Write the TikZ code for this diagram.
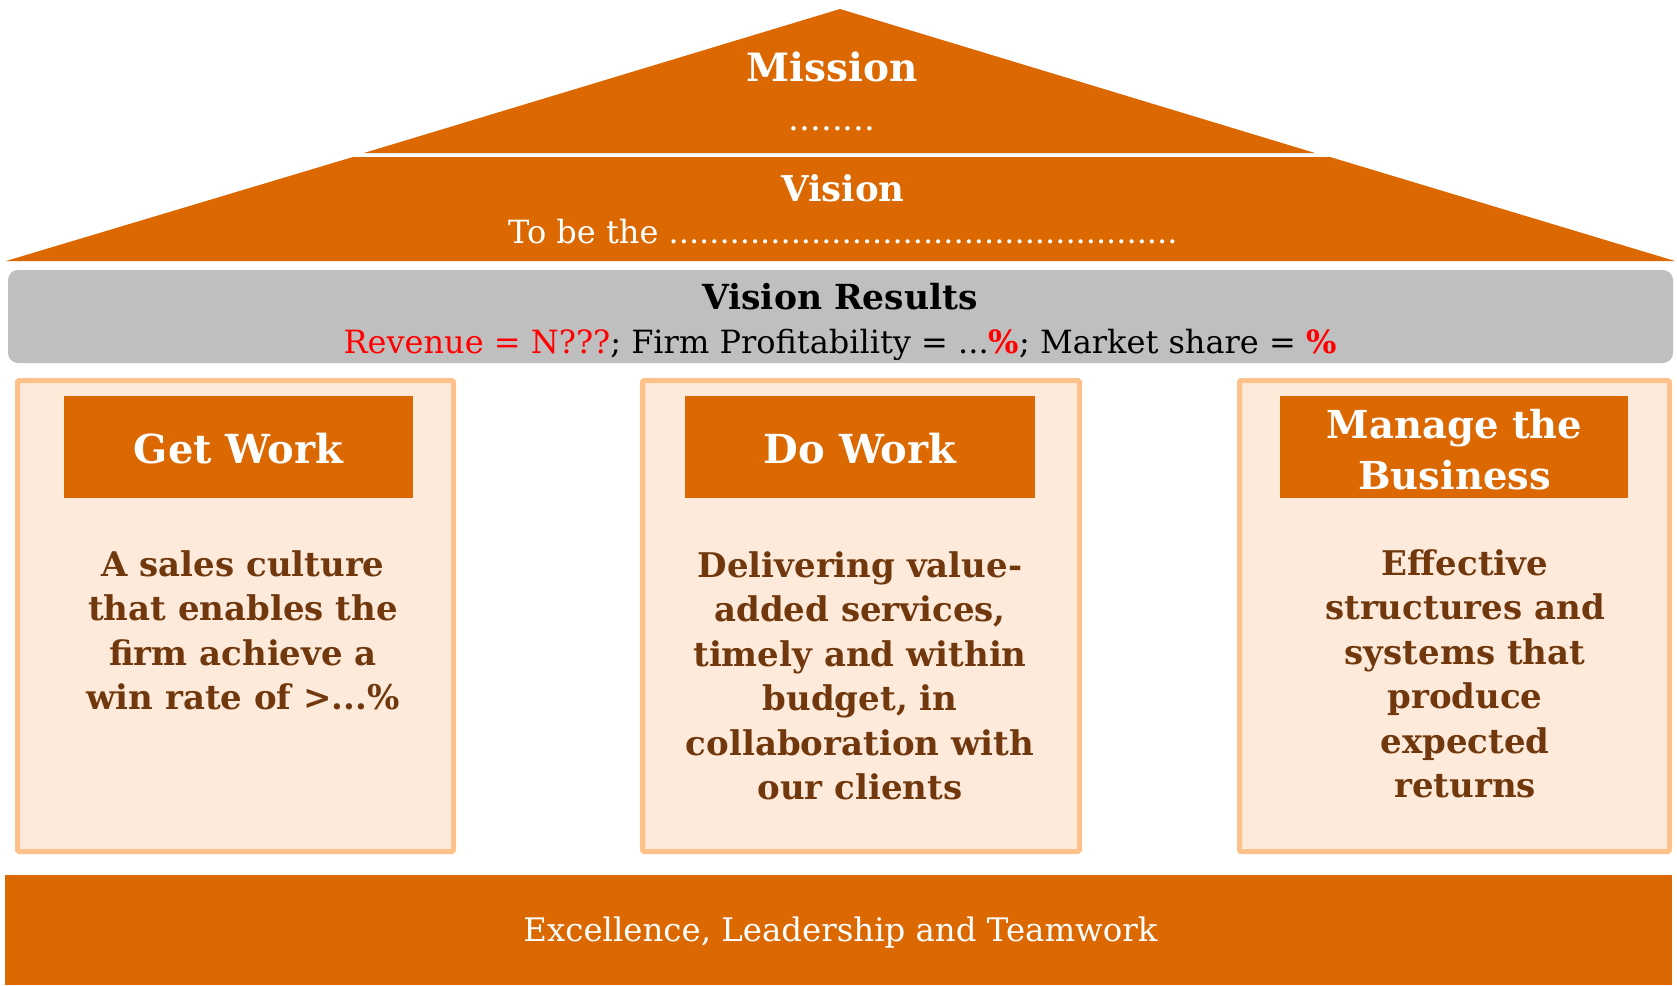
\documentclass[tikz,border=0pt]{standalone}
\usepackage{fontspec}
\setmainfont{DejaVu Serif}
\definecolor{orng}{RGB}{219,104,0}
\definecolor{graybar}{RGB}{191,191,191}
\definecolor{pilfill}{RGB}{253,234,218}
\definecolor{pilline}{RGB}{255,193,138}
\definecolor{brwn}{RGB}{112,56,12}
\definecolor{redt}{RGB}{255,0,0}
\tikzset{
  pillar/.style={draw=pilline, line width=5pt, fill=pilfill, inner sep=0pt, rounded corners=1.5pt},
  header/.style={fill=orng, inner sep=0pt},
  htext/.style={text=white, inner sep=0pt, anchor=base, font=\fontsize{40}{46}\selectfont\bfseries},
  body/.style={text=brwn, inner sep=0pt, align=center, font=\fontsize{34}{44.5}\selectfont\bfseries},
  wtext/.style={text=white, inner sep=0pt},
}
\begin{document}
\begin{tikzpicture}[x=1pt,y=-1pt]
\useasboundingbox (0,0) rectangle (1677,985);
% roof
\fill[orng] (353,157) -- (1330,157) -- (1675,261) -- (6,261) -- cycle;
\fill[orng] (840,9) -- (1315,153) -- (364,153) -- cycle;
\node[wtext, anchor=base, font=\fontsize{39}{44}\selectfont\bfseries] (mission) at (832,81) {Mission};
\node[wtext, anchor=base, font=\fontsize{34}{36}\selectfont] (mdots) at (832,130) {........};
\node[wtext, anchor=base, font=\fontsize{35.5}{40}\selectfont\bfseries] (vision) at (843,201) {Vision};
\node[wtext, anchor=base west, font=\fontsize{32}{38}\selectfont] (tobe) at (508,243) {To be the ..................................................};
% results bar
\node[fill=graybar, rounded corners=10pt, minimum width=1665pt, minimum height=93pt, inner sep=0pt] (bar) at (840.5,316.5) {};
\node[inner sep=0pt, anchor=base, font=\fontsize{34.5}{38}\selectfont\bfseries] (vr) at (840,309) {Vision Results};
\node[inner sep=0pt, anchor=base, font=\fontsize{32}{38}\selectfont] (res) at (840,353) {\textcolor{redt}{Revenue = N???}; Firm Profitability = ...\textcolor{redt}{\bfseries\%}; Market share = \textcolor{redt}{\bfseries\%}};
% pillars
\node[pillar, minimum width=436pt, minimum height=471pt] (p1) at (235.5,616) {};
\node[pillar, minimum width=437pt, minimum height=471pt] (p2) at (861,616) {};
\node[pillar, minimum width=430pt, minimum height=471pt] (p3) at (1454.5,616) {};
\node[header, minimum width=349pt, minimum height=102pt] (h1) at (238.5,447) {};
\node[header, minimum width=350pt, minimum height=102pt] (h2) at (860,447) {};
\node[header, minimum width=348pt, minimum height=102pt] (h3) at (1454,447) {};
\node[htext] (t1) at (238.5,463) {Get Work};
\node[htext] (t2) at (860,463) {Do Work};
\node[htext, font=\fontsize{38.5}{46}\selectfont\bfseries] (t3a) at (1454.5,438.5) {Manage the};
\node[htext, font=\fontsize{38.5}{46}\selectfont\bfseries] (t3b) at (1454.5,489) {Business};
\node[body] (b1) at (243,630.5) {A sales culture\\that enables the\\firm achieve a\\win rate of >...\%};
\node[body] (b2) at (860,676) {Delivering value-\\added services,\\timely and within\\budget, in\\collaboration with\\our clients};
\node[body] (b3) at (1465,674) {Effective\\structures and\\systems that\\produce\\expected\\returns};
% base
\node[fill=orng, minimum width=1667pt, minimum height=110pt, inner sep=0pt] (base) at (838.5,930) {};
\node[wtext, anchor=base, font=\fontsize{32.4}{38}\selectfont] (ex) at (840.5,941) {Excellence, Leadership and Teamwork};
\end{tikzpicture}
\end{document}
